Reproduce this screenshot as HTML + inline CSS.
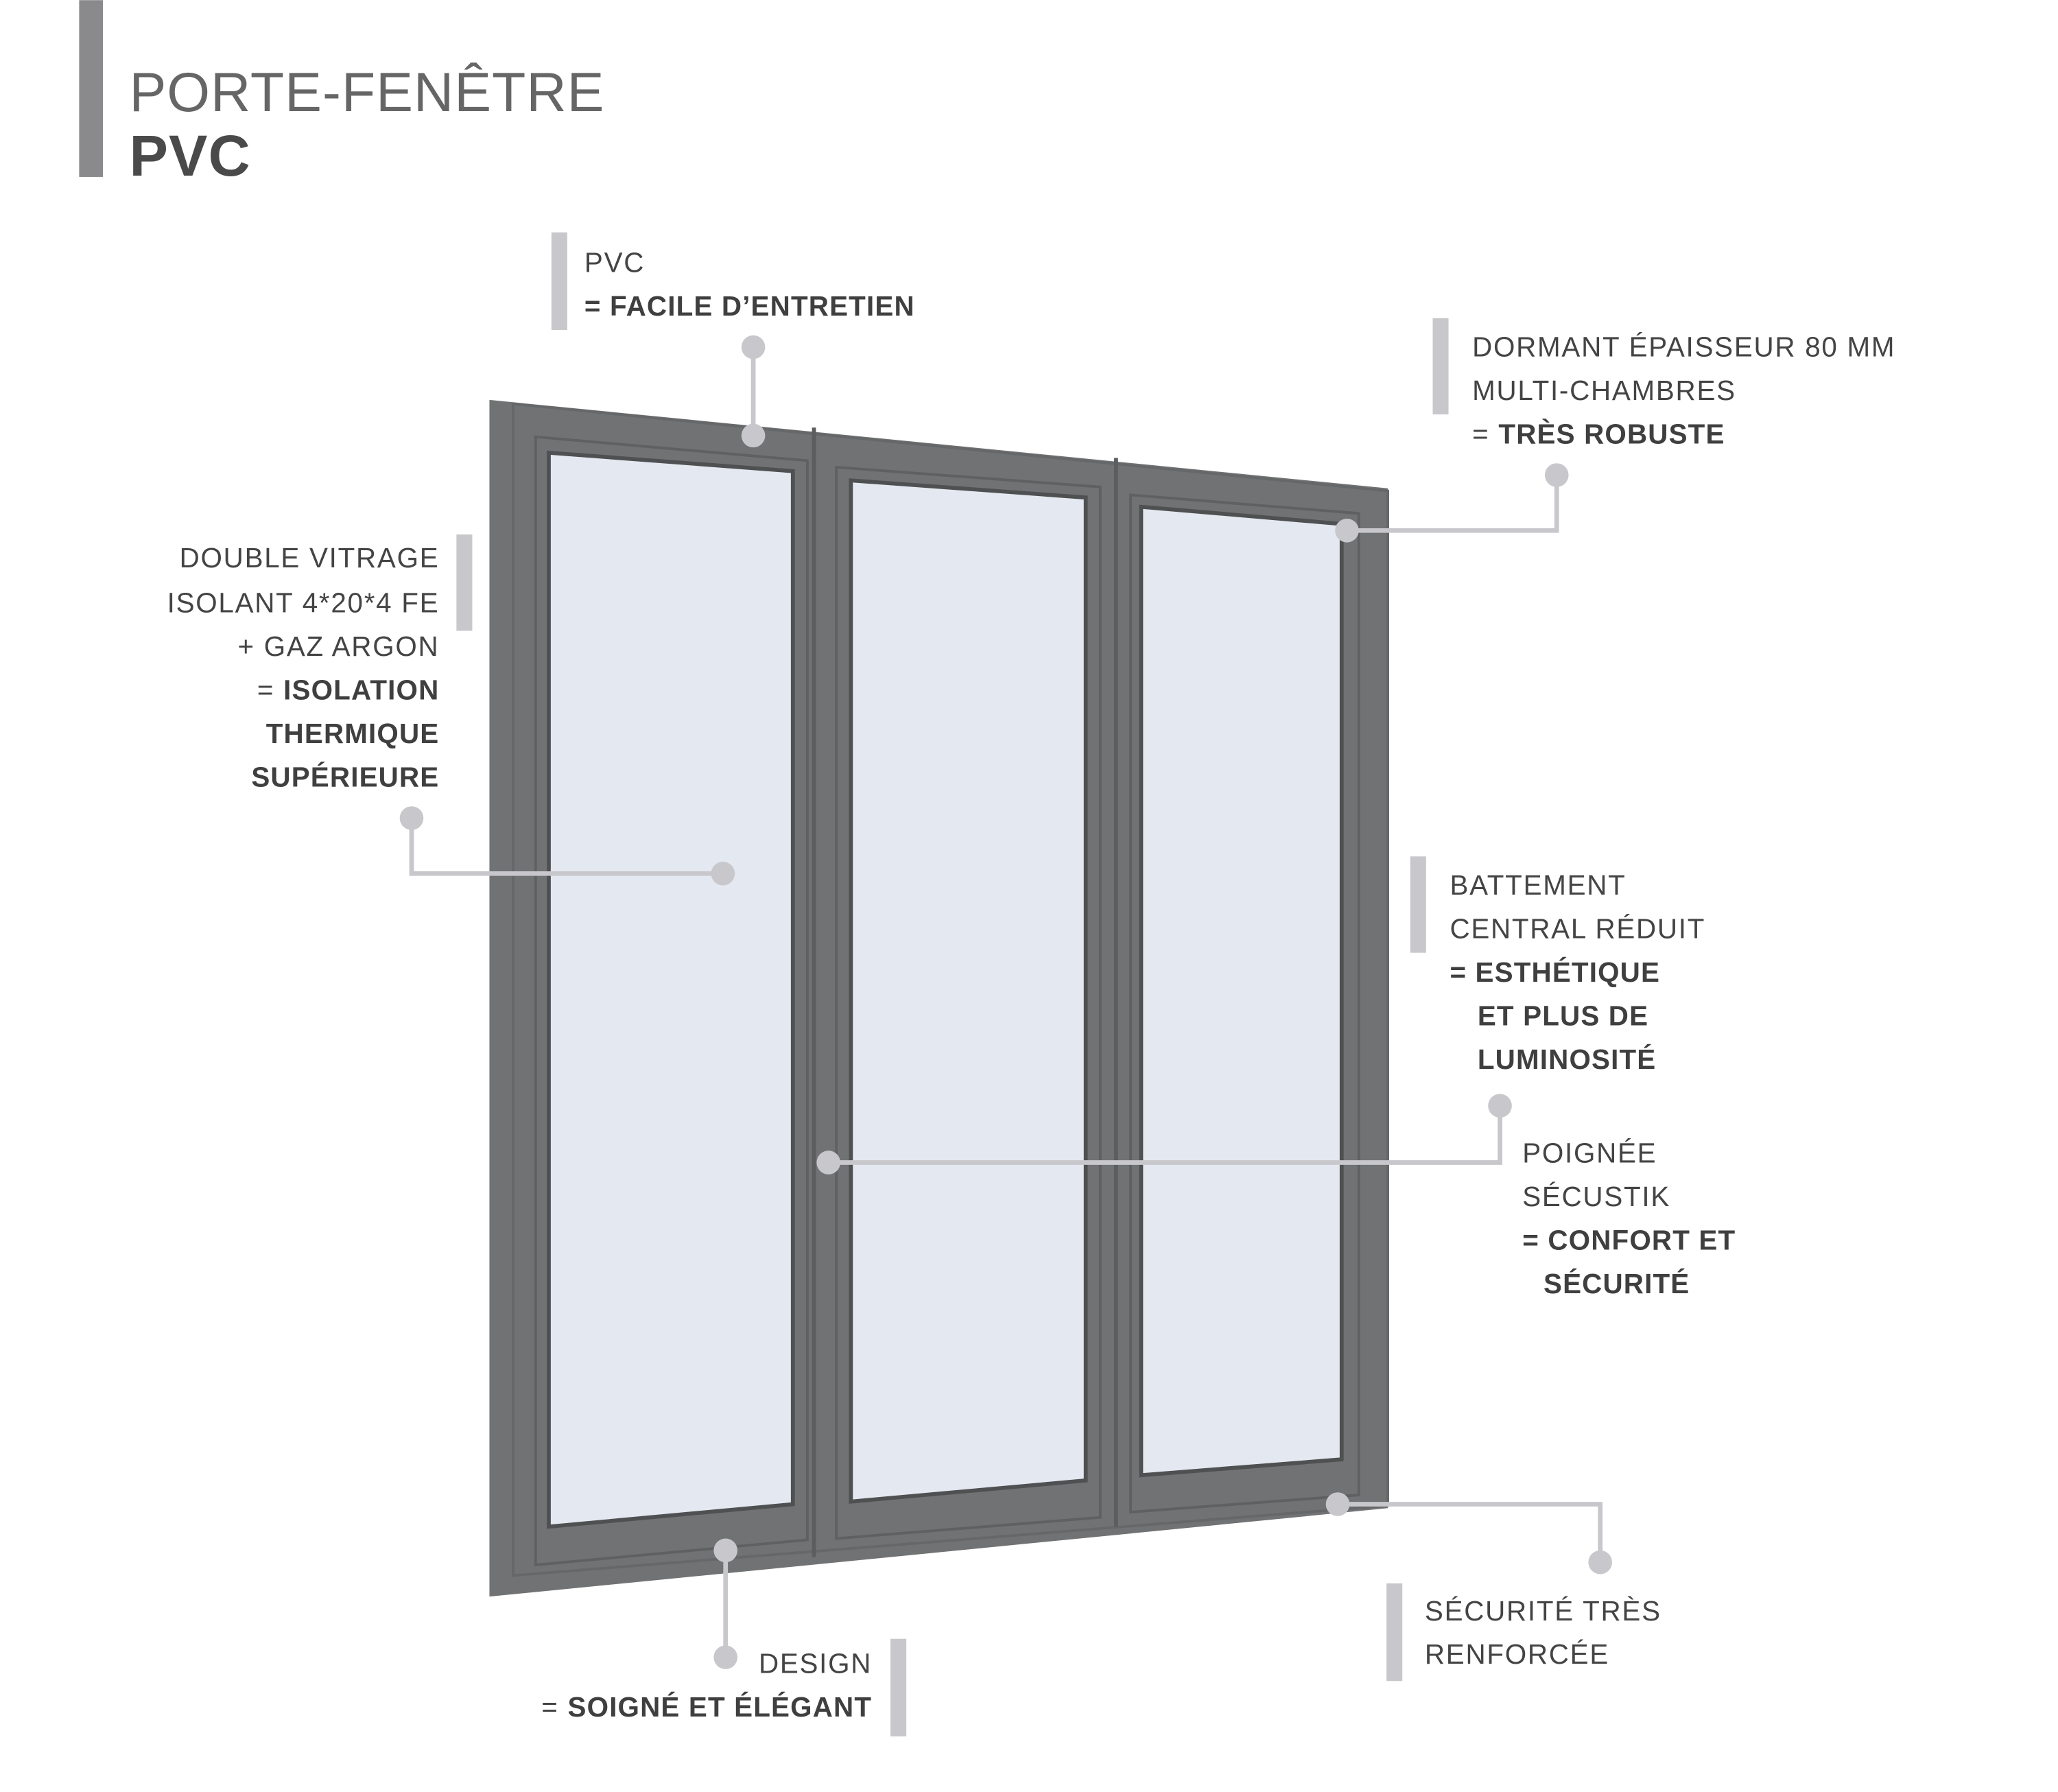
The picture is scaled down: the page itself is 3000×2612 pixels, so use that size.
<!DOCTYPE html>
<html><head><meta charset="utf-8"><style>
html,body{margin:0;padding:0;background:#fff;}
svg{display:block;}
text{font-family:"Liberation Sans",sans-serif;fill:#444;font-size:21px;letter-spacing:0.9px;}
.b{font-weight:bold;fill:#3f3f3f;letter-spacing:0.6px;}
.r{text-anchor:end;}
</style></head><body>
<svg width="3000" height="2612" viewBox="0 0 1560 1358" xmlns="http://www.w3.org/2000/svg">
<rect width="1560" height="1358" fill="#fff"/>
<rect x="60" y="0" width="18" height="134" fill="#8a8a8c"/>
<text x="98" y="84" style="font-size:42px;fill:#666;letter-spacing:0.5px;font-weight:normal">PORTE-FENÊTRE</text>
<text x="98" y="133" class="b" style="font-size:44px;fill:#4a4a4a">PVC</text>

<polygon points="371,303 1052,370 1052,1143 371,1210" fill="#717273"/>
<polygon points="389,306 1052,372 1052,1141 389,1194" fill="none" stroke="#666768" stroke-width="2"/>
<polygon points="406,331 612,349 612,1167 406,1186" fill="none" stroke="#5f6061" stroke-width="2"/>
<polygon points="634,354 834,369 834,1150 634,1166" fill="none" stroke="#5f6061" stroke-width="2"/>
<polygon points="857,375 1030,389 1030,1133 857,1146" fill="none" stroke="#5f6061" stroke-width="2"/>
<line x1="617" y1="324" x2="617" y2="1180" stroke="#5c5d5e" stroke-width="3"/>
<line x1="846" y1="347" x2="846" y2="1157" stroke="#5c5d5e" stroke-width="3"/>
<polygon points="416,343 601,357 601,1140 416,1157" fill="#e4e8f1" stroke="#4f5051" stroke-width="3"/>
<polygon points="645,364 823,377 823,1122 645,1138" fill="#e4e8f1" stroke="#4f5051" stroke-width="3"/>
<polygon points="865,384 1017,397 1017,1106 865,1118" fill="#e4e8f1" stroke="#4f5051" stroke-width="3"/>

<g stroke="#c8c8cc" stroke-width="3.5" fill="none">
<polyline points="571,263 571,330"/>
<polyline points="1180,360 1180,402 1021,402"/>
<polyline points="312,620 312,662 548,662"/>
<polyline points="1137,838 1137,881 628,881"/>
<polyline points="550,1175 550,1256"/>
<polyline points="1014,1140 1213,1140 1213,1184"/>
</g>
<g fill="#c8c8cc">
<circle cx="571" cy="263" r="9"/><circle cx="571" cy="330" r="9"/>
<circle cx="1180" cy="360" r="9"/><circle cx="1021" cy="402" r="9"/>
<circle cx="312" cy="620" r="9"/><circle cx="548" cy="662" r="9"/>
<circle cx="1137" cy="838" r="9"/><circle cx="628" cy="881" r="9"/>
<circle cx="550" cy="1175" r="9"/><circle cx="550" cy="1256" r="9"/>
<circle cx="1014" cy="1140" r="9"/><circle cx="1213" cy="1184" r="9"/>
</g>

<g fill="#c8c8cc">
<rect x="418" y="176" width="12" height="74"/>
<rect x="1086" y="241" width="12" height="73"/>
<rect x="346" y="405" width="12" height="73"/>
<rect x="1069" y="649" width="12" height="73"/>
<rect x="675" y="1242" width="12" height="74"/>
<rect x="1051" y="1200" width="12" height="74"/>
</g>

<text x="443" y="206">PVC</text>
<text x="443" y="239" class="b">= FACILE D’ENTRETIEN</text>

<text x="1116" y="270">DORMANT ÉPAISSEUR 80 MM</text>
<text x="1116" y="303">MULTI-CHAMBRES</text>
<text x="1116" y="336"><tspan>= </tspan><tspan class="b">TRÈS ROBUSTE</tspan></text>

<text x="333" y="430" class="r">DOUBLE VITRAGE</text>
<text x="333" y="464" class="r">ISOLANT 4*20*4 FE</text>
<text x="333" y="497" class="r">+ GAZ ARGON</text>
<text x="333" y="530" class="r"><tspan>= </tspan><tspan class="b">ISOLATION</tspan></text>
<text x="333" y="563" class="r b">THERMIQUE</text>
<text x="333" y="596" class="r b">SUPÉRIEURE</text>

<text x="1099" y="678">BATTEMENT</text>
<text x="1099" y="711">CENTRAL RÉDUIT</text>
<text x="1099" y="744" class="b">= ESTHÉTIQUE</text>
<text x="1120" y="777" class="b">ET PLUS DE</text>
<text x="1120" y="810" class="b">LUMINOSITÉ</text>

<text x="1154" y="881">POIGNÉE</text>
<text x="1154" y="914">SÉCUSTIK</text>
<text x="1154" y="947" class="b">= CONFORT ET</text>
<text x="1170" y="980" class="b">SÉCURITÉ</text>

<text x="661" y="1268" class="r">DESIGN</text>
<text x="661" y="1301" class="r"><tspan>= </tspan><tspan class="b">SOIGNÉ ET ÉLÉGANT</tspan></text>

<text x="1080" y="1228">SÉCURITÉ TRÈS</text>
<text x="1080" y="1261">RENFORCÉE</text>
</svg>
</body></html>
